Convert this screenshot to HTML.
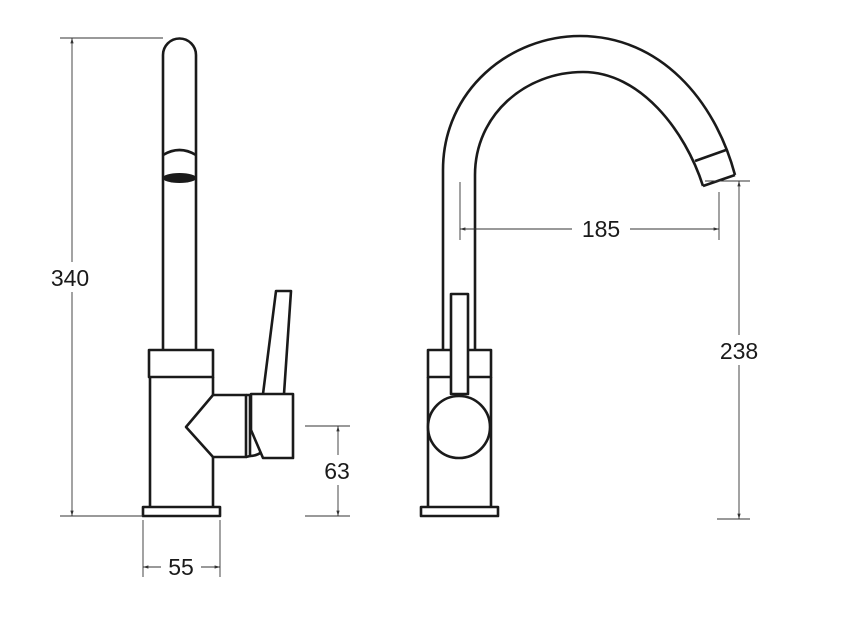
<!DOCTYPE html>
<html><head><style>html,body{margin:0;padding:0;background:#fff}svg{display:block}</style></head><body>
<svg width="848" height="630" viewBox="0 0 848 630" xmlns="http://www.w3.org/2000/svg">
<defs>
<marker id="a" viewBox="0 0 10 10" refX="10" refY="5" markerWidth="6" markerHeight="6" orient="auto-start-reverse"><path d="M0,2 L10,5 L0,8 z" fill="#333"/></marker>
</defs>
<g fill="none" stroke="#1a1a1a" stroke-width="2.6" stroke-linejoin="round">
<path d="M163,350 L163,55 A16.5,16.5 0 0 1 196,55 L196,350"/>
<path d="M163,155 Q179.5,145 196,155"/>
<rect x="149" y="350" width="64" height="27" fill="#fff"/>
<path d="M150,377 L150,507 M213,377 L213,395 M213,457 L213,507"/>
<rect x="143" y="507" width="77" height="9" fill="#fff"/>
<path d="M213,395 L246,395 L246,457 L213,457 L186,427 Z" fill="#fff"/>
<path d="M246,395 L250,395 L250,456 L246,457"/>
<path d="M250,456 Q256,456 262,452"/>
<path d="M263,394 L276,291 L291,291 L284,394"/>
<path d="M251,394 L293,394 L293,458 L263,458 L251,430 Z" fill="#fff"/>
<path d="M443,350 L443,170 C443,90 510,36 580,36 C660,36 715,100 735,175"/>
<path d="M475,350 L475,175 C475,115 525,72 583,72 C640,72 685,130 703,186"/>
<path d="M703,186 L735,175 M695,161 L726,150"/>
<rect x="428" y="350" width="63" height="27" fill="#fff"/>
<path d="M428,377 L428,507 M491,377 L491,507"/>
<rect x="421" y="507" width="77" height="9" fill="#fff"/>
<rect x="451" y="294" width="17" height="100" fill="#fff"/>
<circle cx="459" cy="427" r="31" fill="#fff"/>
</g>
<ellipse cx="179.5" cy="178" rx="17" ry="5" fill="#1a1a1a"/>
<g stroke="#333" stroke-width="0.9" fill="none">
<path d="M60,38 L163,38 M60,516 L143,516"/>
<path d="M72,38 L72,516" marker-start="url(#a)" marker-end="url(#a)"/>
<path d="M305,426 L350,426 M305,516 L350,516"/>
<path d="M338,426 L338,516" marker-start="url(#a)" marker-end="url(#a)"/>
<path d="M143,520 L143,577 M220,520 L220,577"/>
<path d="M143,567 L220,567" marker-start="url(#a)" marker-end="url(#a)"/>
<path d="M460,182 L460,240 M719,192 L719,240"/>
<path d="M460,229 L719,229" marker-start="url(#a)" marker-end="url(#a)"/>
<path d="M705,181 L750,181 M717,519 L750,519"/>
<path d="M739,181 L739,519" marker-start="url(#a)" marker-end="url(#a)"/>
</g>
<g font-family="Liberation Sans, sans-serif" font-size="23" fill="#1a1a1a" text-anchor="middle">
<rect x="46" y="262" width="50" height="30" fill="#fff"/>
<text x="70" y="286">340</text>
<rect x="318" y="455" width="40" height="30" fill="#fff"/>
<text x="337" y="479">63</text>
<rect x="161" y="553" width="40" height="28" fill="#fff"/>
<text x="181" y="575">55</text>
<rect x="572" y="214" width="58" height="30" fill="#fff"/>
<text x="601" y="237">185</text>
<rect x="711" y="335" width="56" height="30" fill="#fff"/>
<text x="739" y="359">238</text>
</g>
</svg>
</body></html>
